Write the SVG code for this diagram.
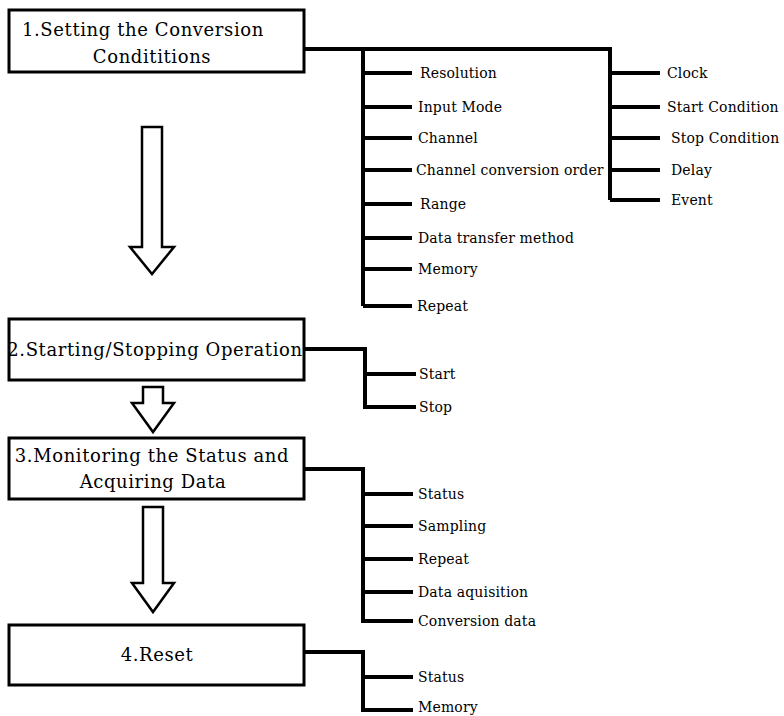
<svg xmlns="http://www.w3.org/2000/svg" width="784" height="716" viewBox="0 0 784 716">
<style>
.box{fill:#fff;stroke:#000;stroke-width:3}
.arrow{fill:#fff;stroke:#000;stroke-width:2.5;stroke-linejoin:miter}
.title{font-family:"DejaVu Serif","Liberation Serif",serif;font-size:18px;letter-spacing:0.6px;fill:#000}
.lbl{font-family:"DejaVu Serif","Liberation Serif",serif;font-size:14px;letter-spacing:0.15px;fill:#000}
.con{fill:none;stroke:#000;stroke-width:4;stroke-linejoin:miter;stroke-linecap:butt}
</style>
<rect width="784" height="716" fill="#fff"/>
<g id="connectors">
<path class="con" d="M304,49 H610 V200 M363,49 V306 M363,73 H412 M363,107 H412 M363,138 H412 M363,170 H412 M363,204 H412 M363,238 H412 M363,269 H412 M363,306 H412 M610,73 H660 M610,107 H660 M610,138 H660 M610,170 H660 M610,200 H660"/>
<path class="con" d="M304,349 H365 V407 H416 M365,374 H416"/>
<path class="con" d="M304,469 H363 V621 H413 M363,494 H413 M363,526 H413 M363,559 H413 M363,592 H413"/>
<path class="con" d="M304,652 H363 V710 H413 M363,677 H413"/>
<polygon class="arrow" points="142,127 162,127 162,247 174,247 152,274 130,247 142,247"/>
<polygon class="arrow" points="143,387 163,387 163,403 174,403 153,432 132,403 143,403"/>
<polygon class="arrow" points="143,507 163,507 163,583 174,583 153,612 132,583 143,583"/>
</g>
<g id="node1">
<rect class="box" x="9" y="10" width="295" height="62"/>
<text class="title" x="22" y="36">1.Setting the Conversion</text>
<text class="title" x="152" y="63" text-anchor="middle">Condititions</text>
</g>
<g id="node2">
<rect class="box" x="9" y="319" width="295" height="61"/>
<text class="title" x="155" y="356" text-anchor="middle">2.Starting/Stopping Operation</text>
</g>
<g id="node3">
<rect class="box" x="9" y="438" width="295" height="61"/>
<text class="title" x="152" y="462" text-anchor="middle">3.Monitoring the Status and</text>
<text class="title" x="153" y="488" text-anchor="middle">Acquiring Data</text>
</g>
<g id="node4">
<rect class="box" x="9" y="625" width="295" height="60"/>
<text class="title" x="157" y="661" text-anchor="middle">4.Reset</text>
</g>
<g id="labels1">
<text class="lbl" x="420" y="78">Resolution</text>
<text class="lbl" x="418" y="112">Input Mode</text>
<text class="lbl" x="418" y="143">Channel</text>
<text class="lbl" x="416" y="175">Channel conversion order</text>
<text class="lbl" x="420" y="209">Range</text>
<text class="lbl" x="418" y="243">Data transfer method</text>
<text class="lbl" x="418" y="274">Memory</text>
<text class="lbl" x="417" y="311">Repeat</text>
<text class="lbl" x="667" y="78">Clock</text>
<text class="lbl" x="667" y="112">Start Condition</text>
<text class="lbl" x="671" y="143">Stop Condition</text>
<text class="lbl" x="671" y="175">Delay</text>
<text class="lbl" x="671" y="205">Event</text>
</g>
<g id="labels2">
<text class="lbl" x="419" y="379">Start</text>
<text class="lbl" x="419" y="412">Stop</text>
</g>
<g id="labels3">
<text class="lbl" x="418" y="499">Status</text>
<text class="lbl" x="418" y="531">Sampling</text>
<text class="lbl" x="418" y="564">Repeat</text>
<text class="lbl" x="418" y="597">Data aquisition</text>
<text class="lbl" x="418" y="626">Conversion data</text>
</g>
<g id="labels4">
<text class="lbl" x="418" y="682">Status</text>
<text class="lbl" x="418" y="712">Memory</text>
</g>
</svg>
